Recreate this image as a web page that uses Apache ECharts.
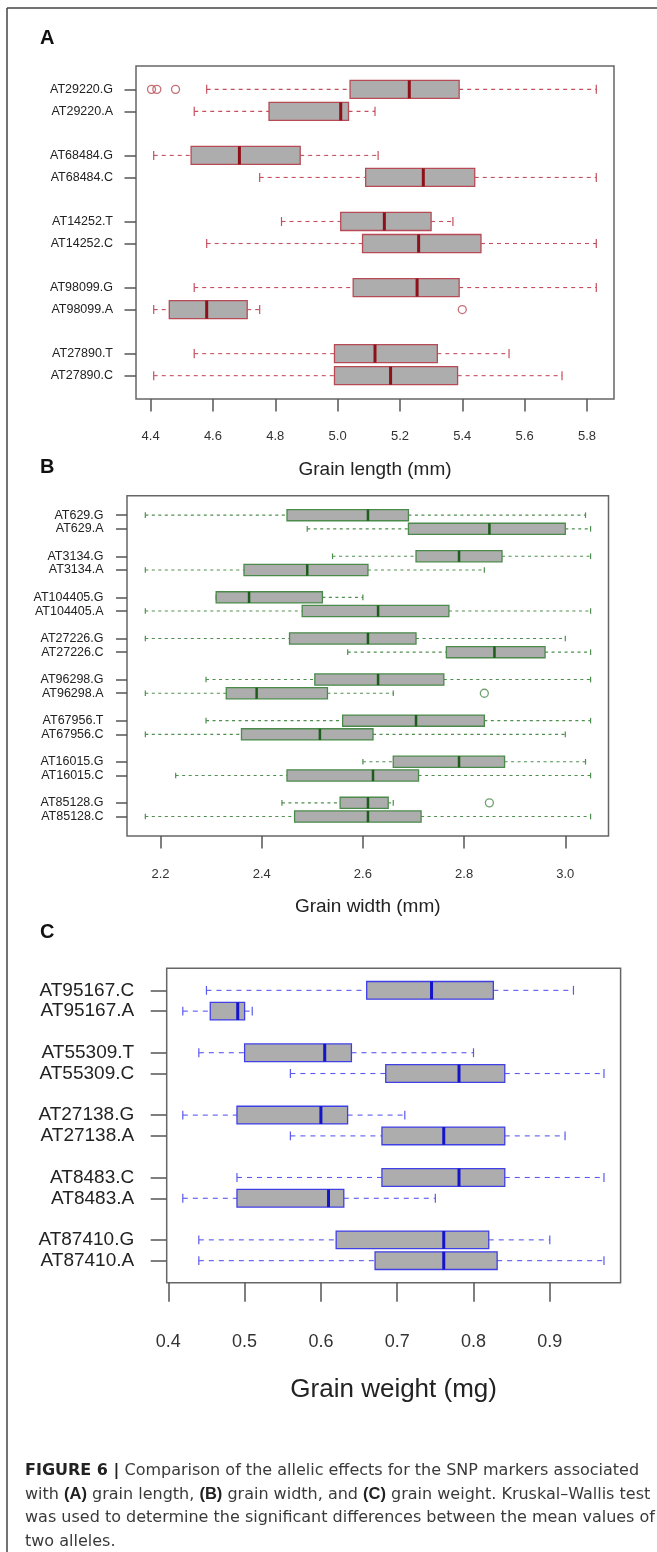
<!DOCTYPE html>
<html>
<head>
<meta charset="utf-8">
<title>Figure 6</title>
<script src="https://cdn.jsdelivr.net/npm/echarts@6/dist/echarts.min.js"></script>
<style>
  html, body { margin: 0; padding: 0; background: #fff; }
  #chart { width: 657px; height: 1552px; }
</style>
</head>
<body>
<div id="chart"></div>
<script>
// (A) grain length, mm
const lengthMarkers = ['AT29220.G', 'AT29220.A', 'AT68484.G', 'AT68484.C', 'AT14252.T', 'AT14252.C', 'AT98099.G', 'AT98099.A', 'AT27890.T', 'AT27890.C']
const lengthLow = [4.58, 4.54, 4.41, 4.75, 4.82, 4.58, 4.54, 4.41, 4.54, 4.41]
const lengthQ1 = [5.04, 4.78, 4.53, 5.09, 5.01, 5.08, 5.05, 4.46, 4.99, 4.99]
const lengthMedian = [5.23, 5.01, 4.685, 5.275, 5.15, 5.26, 5.255, 4.58, 5.12, 5.17]
const lengthQ3 = [5.39, 5.035, 4.88, 5.44, 5.30, 5.46, 5.39, 4.71, 5.32, 5.385]
const lengthHigh = [5.83, 5.12, 5.13, 5.83, 5.37, 5.83, 5.83, 4.75, 5.55, 5.72]
const lengthOutliers = [[0, 4.403], [0, 4.42], [0, 4.48], [7, 5.40]]
const lengthTicks = [4.4, 4.6, 4.8, 5.0, 5.2, 5.4, 5.6, 5.8]

// (B) grain width, mm
const widthMarkers = ['AT629.G', 'AT629.A', 'AT3134.G', 'AT3134.A', 'AT104405.G', 'AT104405.A', 'AT27226.G', 'AT27226.C', 'AT96298.G', 'AT96298.A', 'AT67956.T', 'AT67956.C', 'AT16015.G', 'AT16015.C', 'AT85128.G', 'AT85128.C']
const widthLow = [2.17, 2.49, 2.54, 2.17, 2.31, 2.17, 2.17, 2.57, 2.29, 2.17, 2.29, 2.17, 2.60, 2.23, 2.44, 2.17]
const widthQ1 = [2.45, 2.69, 2.705, 2.365, 2.31, 2.48, 2.455, 2.765, 2.505, 2.33, 2.56, 2.36, 2.66, 2.45, 2.555, 2.465]
const widthMedian = [2.61, 2.85, 2.79, 2.49, 2.375, 2.63, 2.61, 2.86, 2.63, 2.39, 2.705, 2.515, 2.79, 2.62, 2.61, 2.61]
const widthQ3 = [2.69, 3.0, 2.875, 2.61, 2.52, 2.77, 2.705, 2.96, 2.76, 2.53, 2.84, 2.62, 2.88, 2.71, 2.65, 2.715]
const widthHigh = [3.04, 3.05, 3.05, 2.84, 2.60, 3.05, 3.0, 3.05, 3.05, 2.66, 3.05, 3.0, 3.04, 3.05, 2.66, 3.05]
const widthOutliers = [[9, 2.84], [14, 2.85]]
const widthTicks = [2.2, 2.4, 2.6, 2.8, 3.0]

// (C) grain weight, mg
const weightMarkers = ['AT95167.C', 'AT95167.A', 'AT55309.T', 'AT55309.C', 'AT27138.G', 'AT27138.A', 'AT8483.C', 'AT8483.A', 'AT87410.G', 'AT87410.A']
const weightLow = [0.45, 0.419, 0.44, 0.56, 0.419, 0.56, 0.49, 0.419, 0.44, 0.44]
const weightQ1 = [0.66, 0.455, 0.50, 0.685, 0.49, 0.68, 0.68, 0.49, 0.62, 0.671]
const weightMedian = [0.745, 0.491, 0.605, 0.781, 0.60, 0.761, 0.781, 0.61, 0.761, 0.761]
const weightQ3 = [0.826, 0.50, 0.64, 0.841, 0.635, 0.841, 0.841, 0.63, 0.82, 0.831]
const weightHigh = [0.931, 0.51, 0.80, 0.971, 0.71, 0.92, 0.971, 0.75, 0.90, 0.971]
const weightOutliers = []
const weightTicks = [0.4, 0.5, 0.6, 0.7, 0.8, 0.9]

const FONT = 'Liberation Sans, Arial, sans-serif'
const CAPTION_FONT = 'DejaVu Sans, Liberation Sans, sans-serif'

// markers come in pairs, with one empty slot between pairs (R "at" positions)
const slot = i => i + Math.floor(i / 2) + 1

const panels = [
  {
    markers: lengthMarkers, low: lengthLow, q1: lengthQ1, med: lengthMedian, q3: lengthQ3, high: lengthHigh,
    outliers: lengthOutliers, ticks: lengthTicks, name: 'Grain length (mm)',
    grid: { left: 136, top: 66, width: 478, height: 333 },
    xMin: 4.3532, xMax: 5.8868,
    border: '#b84a55', median: '#8e1119', whisker: '#c4505f', dash: [4, 4], medianWidth: 3, wex: 0.82,
    yLabel: 12.5, yMargin: 23, yTick: 11.5,
    xLabel: 13, xMargin: 31, xTick: 12.5, nameSize: 19, nameGap: 61
  },
  {
    markers: widthMarkers, low: widthLow, q1: widthQ1, med: widthMedian, q3: widthQ3, high: widthHigh,
    outliers: widthOutliers, ticks: widthTicks, name: 'Grain width (mm)',
    grid: { left: 127, top: 495.7, width: 481.5, height: 340.3 },
    xMin: 2.1338, xMax: 3.0854,
    border: '#4a8a4a', median: '#1d5c1d', whisker: '#4e8e4e', dash: [3, 3.5], medianWidth: 2.5, wex: 0.82,
    yLabel: 12.5, yMargin: 23.5, yTick: 11,
    xLabel: 13, xMargin: 32, xTick: 12.5, nameSize: 19, nameGap: 61
  },
  {
    markers: weightMarkers, low: weightLow, q1: weightQ1, med: weightMedian, q3: weightQ3, high: weightHigh,
    outliers: weightOutliers, ticks: weightTicks, name: 'Grain weight (mg)',
    grid: { left: 166.7, top: 968.3, width: 453.9, height: 314.4 },
    xMin: 0.3979, xMax: 0.9928,
    border: '#3f3fe6', median: '#1414c8', whisker: '#5a5aee', dash: [5, 5], medianWidth: 3, wex: 0.85,
    yLabel: 19, yMargin: 32.5, yTick: 16,
    xLabel: 18, xMargin: 50, xTick: 19, nameSize: 26, nameGap: 94
  }
]

function renderBox(p) {
  return function (params, api) {
    const pos = api.value(0)
    const lo = api.coord([api.value(1), pos])
    const q1 = api.coord([api.value(2), pos])
    const md = api.coord([api.value(3), pos])
    const q3 = api.coord([api.value(4), pos])
    const hi = api.coord([api.value(5), pos])
    const y = lo[1]
    const h = api.size([0, p.wex])[1]
    const cap = h * 0.5
    const dashed = { stroke: p.whisker, lineWidth: 1.1, lineDash: p.dash }
    const solid = { stroke: p.whisker, lineWidth: 1.2 }
    return {
      type: 'group',
      children: [
        { type: 'line', shape: { x1: lo[0], y1: y, x2: q1[0], y2: y }, style: dashed },
        { type: 'line', shape: { x1: q3[0], y1: y, x2: hi[0], y2: y }, style: dashed },
        { type: 'line', shape: { x1: lo[0], y1: y - cap / 2, x2: lo[0], y2: y + cap / 2 }, style: solid },
        { type: 'line', shape: { x1: hi[0], y1: y - cap / 2, x2: hi[0], y2: y + cap / 2 }, style: solid },
        {
          type: 'rect',
          shape: { x: q1[0], y: y - h / 2, width: q3[0] - q1[0], height: h },
          style: { fill: '#adadad', stroke: p.border, lineWidth: 1.3 }
        },
        {
          type: 'line',
          shape: { x1: md[0], y1: y - h / 2, x2: md[0], y2: y + h / 2 },
          style: { stroke: p.median, lineWidth: p.medianWidth }
        }
      ]
    }
  }
}

const grids = []
const xAxes = []
const yAxes = []
const series = []

panels.forEach((p, k) => {
  const positions = p.markers.map((m, i) => slot(i))
  const last = positions[positions.length - 1]
  const pad = 0.04 * last

  grids.push(Object.assign({
    show: true,
    borderColor: '#666',
    borderWidth: 1.5,
    backgroundColor: 'transparent',
    outerBoundsMode: 'none'
  }, p.grid))

  xAxes.push({
    gridIndex: k,
    type: 'value',
    position: 'bottom',
    min: p.xMin,
    max: p.xMax,
    axisLine: { show: false, onZero: false },
    splitLine: { show: false },
    axisTick: { customValues: p.ticks, length: p.xTick, lineStyle: { color: '#555', width: 1.5 } },
    axisLabel: {
      customValues: p.ticks,
      formatter: v => v.toFixed(1),
      margin: p.xMargin,
      fontSize: p.xLabel,
      fontFamily: FONT,
      color: '#333'
    },
    name: p.name,
    nameLocation: 'middle',
    nameGap: p.nameGap,
    nameTextStyle: { fontSize: p.nameSize, fontFamily: FONT, color: '#222' }
  })

  yAxes.push({
    gridIndex: k,
    type: 'value',
    position: 'left',
    inverse: true,
    min: 0.5 - pad,
    max: last + 0.5 + pad,
    axisLine: { show: false, onZero: false },
    splitLine: { show: false },
    axisTick: { customValues: positions, length: p.yTick, lineStyle: { color: '#555', width: 1.5 } },
    axisLabel: {
      customValues: positions,
      formatter: v => p.markers[positions.indexOf(v)] || '',
      margin: p.yMargin,
      fontSize: p.yLabel,
      fontFamily: FONT,
      color: '#222'
    }
  })

  series.push({
    type: 'custom',
    xAxisIndex: k,
    yAxisIndex: k,
    renderItem: renderBox(p),
    encode: { x: [1, 2, 3, 4, 5], y: 0 },
    data: p.markers.map((m, i) => [positions[i], p.low[i], p.q1[i], p.med[i], p.q3[i], p.high[i]]),
    silent: true,
    animation: false
  })

  if (p.outliers.length) {
    series.push({
      type: 'scatter',
      xAxisIndex: k,
      yAxisIndex: k,
      symbol: 'circle',
      symbolSize: 8,
      itemStyle: { color: 'rgba(0,0,0,0)', borderColor: p.border, borderWidth: 1.3 },
      data: p.outliers.map(o => [o[1], positions[o[0]]]),
      silent: true,
      animation: false
    })
  }
})

const caption = [
  '{b|FIGURE 6 |} Comparison of the allelic effects for the SNP markers associated',
  'with {p|(A)} grain length, {p|(B)} grain width, and {p|(C)} grain weight. Kruskal\u2013Wallis test',
  'was used to determine the significant differences between the mean values of',
  'two alleles.'
].join('\n')

const chart = echarts.init(document.getElementById('chart'), null, { renderer: 'canvas' })
chart.setOption({
  backgroundColor: '#fff',
  animation: false,
  grid: grids,
  xAxis: xAxes,
  yAxis: yAxes,
  series: series,
  graphic: [
    { type: 'line', shape: { x1: 7, y1: 8, x2: 657, y2: 8 }, style: { stroke: '#444', lineWidth: 1.5 } },
    { type: 'line', shape: { x1: 7, y1: 8, x2: 7, y2: 1552 }, style: { stroke: '#444', lineWidth: 1.5 } },
    { type: 'text', x: 40, y: 38.5, style: { text: 'A', font: 'bold 20px ' + FONT, fill: '#111', verticalAlign: 'middle' } },
    { type: 'text', x: 40, y: 467, style: { text: 'B', font: 'bold 20px ' + FONT, fill: '#111', verticalAlign: 'middle' } },
    { type: 'text', x: 40, y: 932, style: { text: 'C', font: 'bold 20px ' + FONT, fill: '#111', verticalAlign: 'middle' } },
    {
      type: 'text',
      x: 25,
      y: 1459.5,
      style: {
        text: caption,
        fontSize: 16,
        fontFamily: CAPTION_FONT,
        fill: '#3a3a3a',
        lineHeight: 23.5,
        verticalAlign: 'top',
        rich: {
          b: { fontSize: 16, fontFamily: CAPTION_FONT, fontWeight: 'bold', fill: '#222', lineHeight: 23.5 },
          p: { fontSize: 16.5, fontFamily: FONT, fontWeight: 'bold', fill: '#222', lineHeight: 23.5 }
        }
      }
    }
  ]
})
</script>
</body>
</html>
